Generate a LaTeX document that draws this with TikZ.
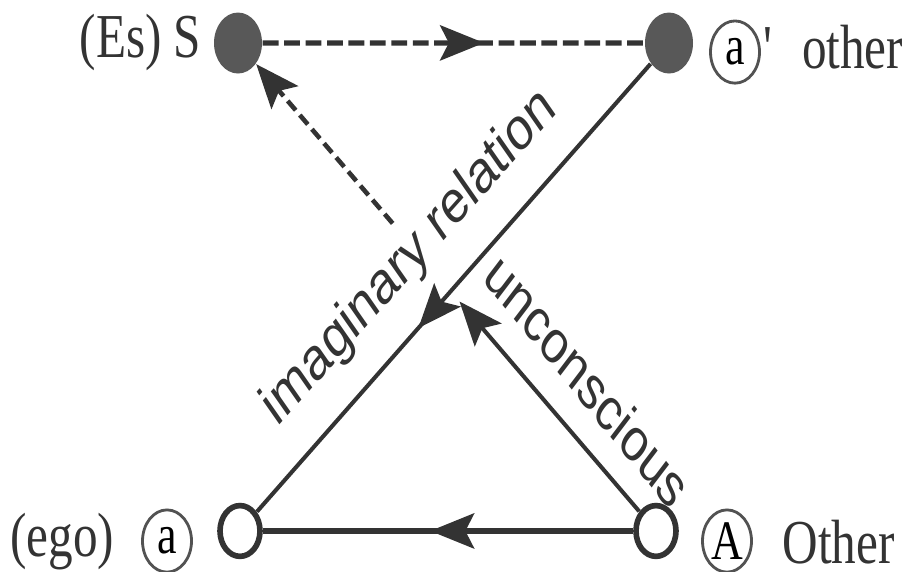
\documentclass[tikz,border=0pt]{standalone}
\usepackage{fontspec}
\setmainfont{Liberation Serif}
\setsansfont{Liberation Sans}
\usepackage{xcolor}
\usetikzlibrary{arrows.meta,positioning,calc,decorations.markings}

\definecolor{ink}{HTML}{333333}
\definecolor{blob}{HTML}{585858}

\tikzset{
  full/.style={circle,fill=blob,inner sep=0pt,minimum size=0.48cm},
  hollow/.style={circle,draw=ink,line width=1.6pt,fill=white,inner sep=0pt,minimum size=0.40cm},
  ring/.style={circle,draw=ink!85,line width=0.8pt,inner sep=0pt,minimum size=0.49cm,font=\fontsize{12.5}{14}\selectfont},
  lbl/.style={inner sep=0pt,text=ink,font=\fontsize{14}{16}\selectfont},
  rel/.style={inner sep=0pt,text=ink,font=\sffamily\fontsize{13.5}{16}\selectfont},
  link/.style={draw=ink,line width=1.15pt},
  tip/.style={-{Stealth[length=12.5pt,width=10pt,inset=2.5pt]}},
  midarrow/.style={postaction={decorate},decoration={markings,
    mark=at position #1 with {\arrow{Stealth[length=12.5pt,width=10pt,inset=2.5pt]}}}}
}

\begin{document}
\begin{tikzpicture}[yscale=1.27,transform shape]
\useasboundingbox (0,0) rectangle (9.12,4.504);
% the four places
\node[full] (S) at (2.38,4.165) {};
\node[full] (ap) at (6.69,4.165) {};
\node[hollow] (a) at (2.40,0.323) {};
\node[hollow] (A) at (6.56,0.323) {};
% names beside them
\node[lbl,anchor=east] (Slbl) at (2.02,4.173) {(Es) S};
\node[ring] (apc) at (7.35,4.094) {a};
\node[lbl,anchor=west] (aplbl) at (7.63,4.13) {\textquotesingle\hspace{0.6em}other};
\node[lbl,anchor=east] (ego) at (1.15,0.236) {(ego)};
\node[ring] (ac) at (1.67,0.244) {a};
\node[ring] (Ac) at (7.27,0.244) {A};
\node[lbl,anchor=west] (Albl) at (7.82,0.236) {Other};
% relations
\draw[link,line width=1.5pt,dash pattern=on 4.5pt off 1.6pt,midarrow=0.58] (S) -- (ap);
\draw[link,midarrow=0.59] (ap) -- (a);
\draw[link,line width=1.5pt,midarrow=0.548] (A) -- (a);
\coordinate (u1) at ($(A)!0.47!(S)$);
\coordinate (u2) at ($(A)!0.63!(S)$);
\draw[link,tip] (A) -- (u1);
\draw[link,line width=1.3pt,dash pattern=on 3.5pt off 1.8pt,tip] (u2) -- (S);
\node[rel,rotate=41.5] (imag) at (4.10,2.472) {imaginary relation};
\node[rel,rotate=-44] (unc) at (5.88,1.512) {unconscious};
\end{tikzpicture}
\end{document}
